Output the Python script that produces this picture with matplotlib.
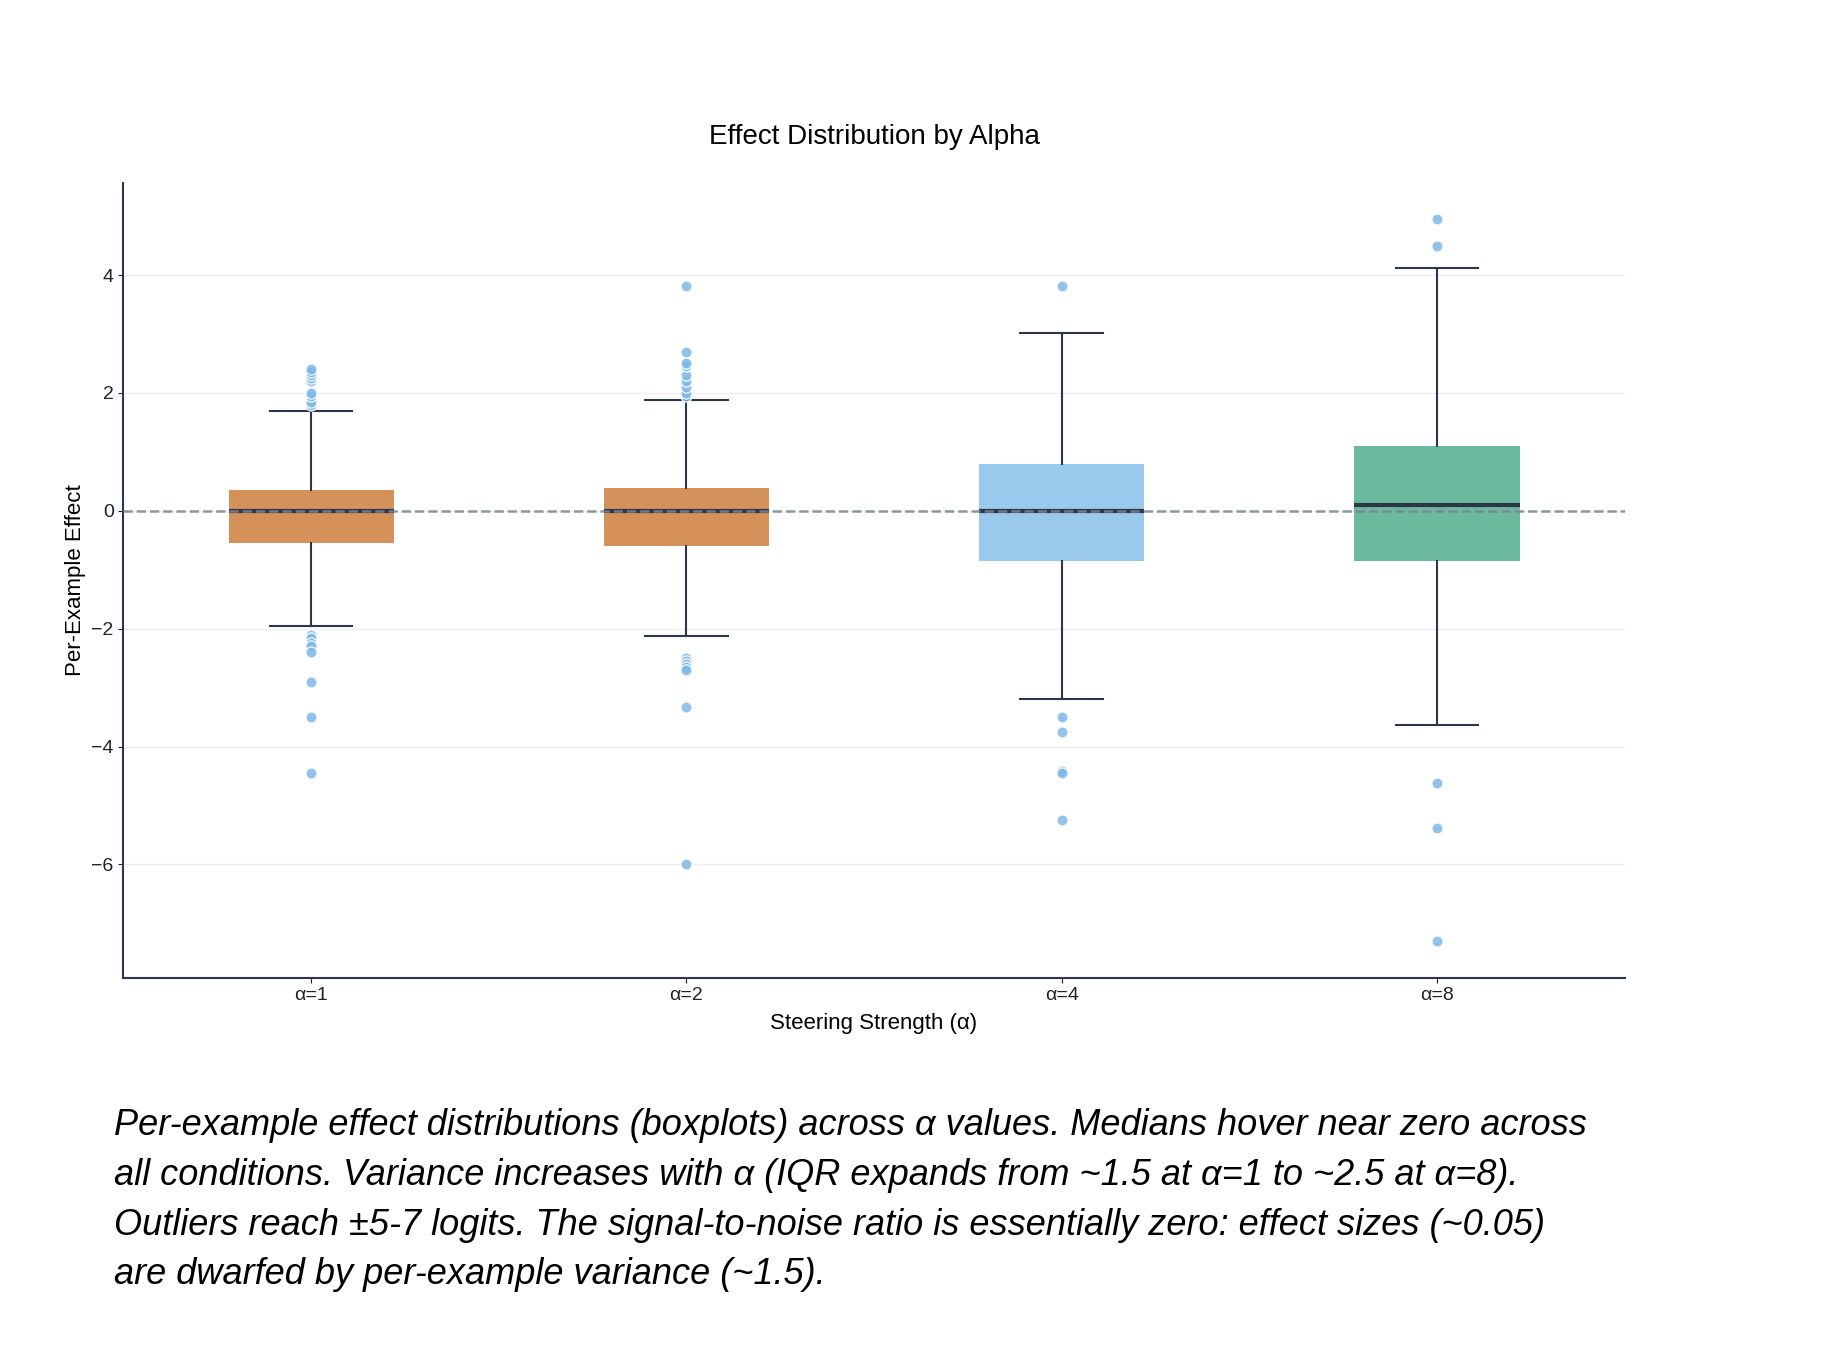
import matplotlib.pyplot as plt

plt.rcParams['font.family'] = ['Liberation Sans', 'DejaVu Sans']

labels = ['α=1', 'α=2', 'α=4', 'α=8']
q1 = [-0.55, -0.6, -0.85, -0.85]
med = [0.0, 0.0, 0.0, 0.1]
q3 = [0.35, 0.38, 0.8, 1.1]
whislo = [-1.95, -2.12, -3.2, -3.63]
whishi = [1.7, 1.88, 3.02, 4.12]
fliers = [
    [1.8, 1.85, 1.95, 2.0, 2.2, 2.25, 2.3, 2.35, 2.4, -2.1, -2.15, -2.25, -2.3, -2.4, -2.9, -3.5, -4.45],
    [1.95, 2.0, 2.1, 2.2, 2.3, 2.45, 2.5, 2.7, 3.82, -2.5, -2.55, -2.6, -2.65, -2.7, -3.33, -6.0],
    [3.82, -3.5, -3.75, -4.42, -4.45, -5.25],
    [4.95, 4.5, -4.62, -5.38, -7.3],
]
colors = ['#D4915A', '#D4915A', '#99C9EC', '#6BBA9E']
dark = '#2D3748'

fig = plt.figure(figsize=(18.42, 13.56), dpi=100)
ax = fig.add_axes([0.067, 0.279, 0.815, 0.586])

stats = [dict(label=labels[i], q1=q1[i], med=med[i], q3=q3[i], whislo=whislo[i],
              whishi=whishi[i], fliers=fliers[i]) for i in range(4)]
bp = ax.bxp(stats, positions=range(4), widths=0.44, patch_artist=True,
            medianprops=dict(color=dark, linewidth=3),
            whiskerprops=dict(color=dark, linewidth=1.5),
            capprops=dict(color=dark, linewidth=1.5),
            flierprops=dict(marker='o', markerfacecolor='#7DB8E8', markeredgecolor='white',
                            markersize=8, alpha=0.85),
            boxprops=dict(linewidth=0))
for patch, c in zip(bp['boxes'], colors):
    patch.set_facecolor(c)
    patch.set_edgecolor('white')

ax.axhline(0, color='#7A8494', linestyle='--', linewidth=1.8, alpha=0.85, zorder=5)
ax.set_ylim(-7.92, 5.56)
ax.set_xlim(-0.5, 3.5)
ax.set_yticks([-6, -4, -2, 0, 2, 4])
ax.set_yticklabels(['−6', '−4', '−2', '0', '2', '4'])
ax.yaxis.grid(True, color='#EEEEEE', linewidth=1)
ax.set_axisbelow(True)
for s in ['top', 'right']:
    ax.spines[s].set_visible(False)
for s in ['left', 'bottom']:
    ax.spines[s].set_color(dark)
    ax.spines[s].set_linewidth(1.5)
ax.tick_params(labelsize=14, colors='#222222')
ax.set_title('Effect Distribution by Alpha', fontsize=20, pad=28)
ax.set_xlabel('Steering Strength (α)', fontsize=16, labelpad=6)
ax.set_ylabel('Per-Example Effect', fontsize=16)

caption = ("Per-example effect distributions (boxplots) across α values. Medians hover near zero across\n"
           "all conditions. Variance increases with α (IQR expands from ~1.5 at α=1 to ~2.5 at α=8).\n"
           "Outliers reach ±5-7 logits. The signal-to-noise ratio is essentially zero: effect sizes (~0.05)\n"
           "are dwarfed by per-example variance (~1.5).")
fig.text(0.062, 0.183, caption, fontsize=26, style='italic', va='top', linespacing=1.55)

fig.savefig('out.png')
